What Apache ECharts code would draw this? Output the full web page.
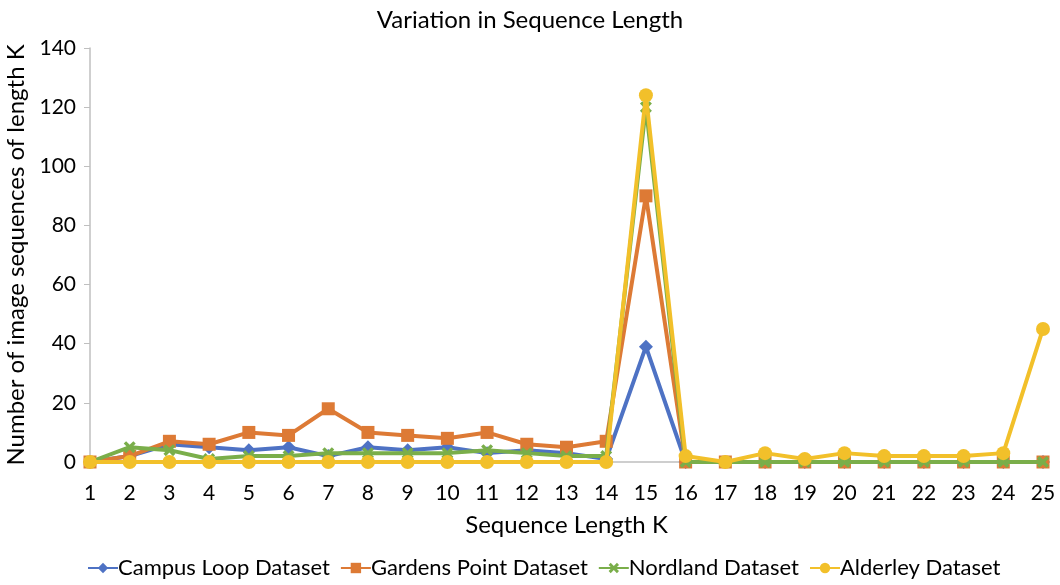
<!DOCTYPE html>
<html><head><meta charset="utf-8">
<script src="https://cdn.jsdelivr.net/npm/echarts@6/dist/echarts.min.js"></script>
<style>html,body{margin:0;padding:0;background:#fff}#c{width:1060px;height:585px}</style>
</head><body><div id="c"></div>
<script>
const categories = ['1','2','3','4','5','6','7','8','9','10','11','12','13','14','15','16','17','18','19','20','21','22','23','24','25'];
const campusLoop   = [0,2,6,5,4,5,2,5,4,5,3,4,3,1,39,0,0,0,0,0,0,0,0,0,0];
const gardensPoint = [0,2,7,6,10,9,18,10,9,8,10,6,5,7,90,0,0,0,0,0,0,0,0,0,0];
const nordland     = [0,5,4,1,2,2,3,3,3,3,4,3,2,2,120,0,0,0,0,0,0,0,0,0,0];
const alderley     = [0,0,0,0,0,0,0,0,0,0,0,0,0,0,124,2,0,3,1,3,2,2,2,3,45];
const seriesNames = ['Campus Loop Dataset','Gardens Point Dataset','Nordland Dataset','Alderley Dataset'];

const F = 'Lato, "Liberation Sans", sans-serif';
const xMark = 'path://M2,0 L5,3 L8,0 L10,2 L7,5 L10,8 L8,10 L5,7 L2,10 L0,8 L3,5 L0,2 Z';
const symbols = ['diamond','rect',xMark,'circle'];
const sizes = [14,13,12,14];
const colorsUsed = ['#4E72C4','#DD7A35','#7AAE4A','#F2C02A'];
const datas = [campusLoop,gardensPoint,nordland,alderley];

const chart = echarts.init(document.getElementById('c'), null, {renderer:'canvas'});
chart.setOption({
  animation:false,
  color: colorsUsed,
  title:{text:'Variation in Sequence Length', left:'center', top:3,
    textStyle:{fontFamily:F, fontSize:24, fontWeight:'normal', color:'#000'}},
  grid:{left:90, right:17, top:48, bottom:123, containLabel:false, outerBoundsMode:'none'},
  legend:{bottom:1, left:82, itemGap:10, itemWidth:30, itemHeight:13,
    textStyle:{fontFamily:F, fontSize:22, color:'#000', padding:[0,0,0,-5]},
    data: seriesNames},
  xAxis:{type:'category', data:categories, boundaryGap:false,
    name:'Sequence Length K', nameLocation:'middle', nameGap:51,
    nameTextStyle:{fontFamily:F, fontSize:24, color:'#000'},
    axisLine:{lineStyle:{color:'#BFBFBF', width:1.5}},
    axisTick:{show:false},
    axisLabel:{fontFamily:F, fontSize:21, color:'#000', margin:21}},
  yAxis:{type:'value', min:0, max:140, interval:20,
    name:'Number of image sequences of length K', nameLocation:'middle', nameGap:55,
    nameTextStyle:{fontFamily:F, fontSize:24, color:'#000'},
    axisLine:{show:true, lineStyle:{color:'#BFBFBF', width:1.5}},
    axisTick:{show:true, length:6, lineStyle:{color:'#BFBFBF'}},
    splitLine:{show:false},
    axisLabel:{fontFamily:F, fontSize:21, color:'#000', margin:14}},
  series: datas.map((d,i)=>({
    name: seriesNames[i], type:'line', data:d,
    symbol: symbols[i], symbolSize: sizes[i], showAllSymbol:true,
    lineStyle:{width:4, color:colorsUsed[i]},
    itemStyle:{color:colorsUsed[i]},
    z: 2+i
  }))
});
</script></body></html>
